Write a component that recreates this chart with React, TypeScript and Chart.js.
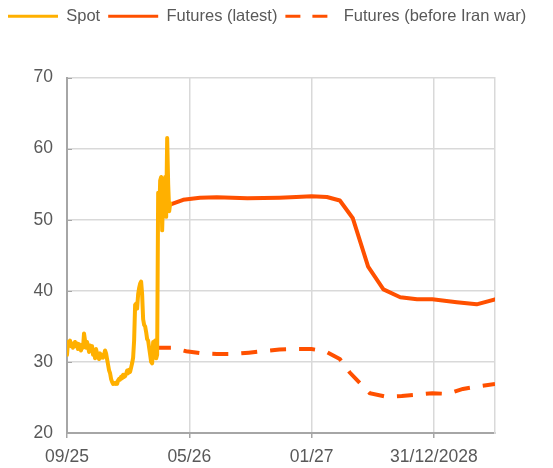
import React, { useEffect, useRef } from "react";
import { Chart, registerables } from "chart.js";

Chart.register(...registerables);

// x axis: position units (each labelled tick = 8 units)
const xTickValues = [0, 8, 16, 24];
const xTickLabels = ["09/25", "05/26", "01/27", "31/12/2028"];
const xMin = 0;
const xMax = 28;
const yMin = 20;
const yMax = 70;
const yStep = 10;

// Spot (daily), spread evenly from spotStartX to spotEndX
const spotStartX = 0;
const spotEndX = 6.75;
const spotValues = [
  31.0, 32.8, 32.5, 33.0, 32.2, 32.6, 32.0, 32.4, 32.8, 32.2,
  32.6, 31.8, 32.5, 32.3, 31.6, 32.4, 32.0, 34.0, 33.0, 32.0,
  32.8, 32.2, 31.4, 32.3, 31.8, 32.2, 31.0, 31.6, 30.5, 31.8,
  31.2, 30.8, 30.4, 31.2, 30.6, 31.0, 30.6, 31.0, 31.6, 31.2,
  30.4, 29.6, 28.8, 28.4, 27.6, 27.2, 26.9, 27.0, 26.9, 27.1,
  26.9, 27.4, 27.6, 27.5, 27.9, 27.7, 28.2, 27.9, 28.0, 28.3,
  28.8, 28.4, 28.9, 28.6, 29.2, 29.8, 30.6, 33.0, 38.0, 38.2,
  37.5, 39.5, 40.4, 41.0, 41.3, 39.5, 36.0, 35.2, 35.0, 34.2,
  33.2, 33.0, 32.0, 31.0, 30.0, 29.8, 32.8, 31.5, 33.0, 30.5,
  31.0, 53.8, 50.0, 55.5, 56.0, 48.5, 54.0, 50.5, 56.0, 50.4,
  61.5, 55.0, 51.2, 52.3,
];

const futuresLatestX = [6.6, 7.6, 8.7, 9.8, 11.8, 13.9, 15.0, 16.0, 17.0, 17.85, 18.7, 19.7, 20.7, 21.8, 22.9, 23.9, 25.5, 26.8, 28.0];
const futuresLatestY = [52.0, 52.8, 53.1, 53.15, 53.0, 53.1, 53.2, 53.3, 53.2, 52.7, 50.2, 43.4, 40.2, 39.1, 38.8, 38.8, 38.4, 38.1, 38.8];

const futuresBeforeX = [5.75, 6.85, 7.8, 8.8, 9.8, 10.8, 11.9, 12.8, 13.9, 14.8, 16.0, 16.9, 17.85, 18.5, 19.8, 20.9, 21.9, 23.9, 24.9, 25.9, 27.0, 28.0];
const futuresBeforeY = [32.0, 32.0, 31.5, 31.2, 31.1, 31.1, 31.3, 31.5, 31.75, 31.8, 31.8, 31.5, 30.4, 28.5, 25.6, 25.1, 25.2, 25.6, 25.5, 26.2, 26.6, 26.9];

const seriesNames = ["Spot", "Futures (latest)", "Futures (before Iran war)"];

const SPOT_COLOR = "#FFB000";
const FUT_COLOR = "#FF5000";
const GRID = "#d9d9d9";
const AXIS = "#a6a6a6";
const TEXT = "#595959";
const FONT = "'Liberation Sans', Arial, sans-serif";

export default function App() {
  const ref = useRef<HTMLCanvasElement | null>(null);

  useEffect(() => {
    if (!ref.current) return;
    const n = spotValues.length;
    const spotData = spotValues.map((v, i) => ({
      x: spotStartX + ((spotEndX - spotStartX) * i) / (n - 1),
      y: v,
    }));
    const latestData = futuresLatestX.map((x, i) => ({ x, y: futuresLatestY[i] }));
    const beforeData = futuresBeforeX.map((x, i) => ({ x, y: futuresBeforeY[i] }));

    const insideTicks = {
      id: "insideTicks",
      beforeDatasetsDraw(chart: any) {
        const { ctx, chartArea, scales } = chart;
        const ys = scales.y;
        ctx.save();
        ctx.strokeStyle = AXIS;
        ctx.lineWidth = 1;
        ys.ticks.forEach((t: any) => {
          const py = Math.round(ys.getPixelForValue(t.value)) + 0.5;
          ctx.beginPath();
          ctx.moveTo(chartArea.left, py);
          ctx.lineTo(chartArea.left + 5, py);
          ctx.stroke();
        });
        ctx.restore();
      },
    };

    const chart = new Chart(ref.current, {
      type: "line",
      data: {
        datasets: [
          {
            label: seriesNames[0],
            data: spotData,
            borderColor: SPOT_COLOR,
            backgroundColor: SPOT_COLOR,
            borderWidth: 4,
            pointRadius: 0,
            tension: 0,
            borderJoinStyle: "round",
            borderCapStyle: "round",
          },
          {
            label: seriesNames[1],
            data: latestData,
            borderColor: FUT_COLOR,
            backgroundColor: FUT_COLOR,
            borderWidth: 4,
            pointRadius: 0,
            tension: 0,
            borderJoinStyle: "round",
            borderCapStyle: "round",
          },
          {
            label: seriesNames[2],
            data: beforeData,
            borderColor: FUT_COLOR,
            backgroundColor: FUT_COLOR,
            borderWidth: 4,
            borderDash: [16, 13],
            pointRadius: 0,
            tension: 0,
            borderCapStyle: "butt",
          },
        ],
      },
      options: {
        animation: false,
        responsive: true,
        maintainAspectRatio: false,
        layout: { padding: 0 },
        plugins: {
          legend: {
            position: "top",
            align: "start",
            labels: {
              usePointStyle: true,
              pointStyle: "line",
              pointStyleWidth: 50,
              padding: 8,
              color: TEXT,
              font: { family: FONT, size: 16.5 },
              generateLabels(chart: any) {
                const items = Chart.defaults.plugins.legend.labels.generateLabels(chart);
                return items.map((it: any) => {
                  const ds: any = chart.data.datasets[it.datasetIndex];
                  return {
                    ...it,
                    lineWidth: 3,
                    pointStyle: "line",
                    strokeStyle: ds.borderColor,
                    lineDash: ds.borderDash ? [15, 12] : [],
                    lineCap: "butt",
                  };
                });
              },
            },
          },
          subtitle: {
            display: true,
            text: "",
            position: "top",
            weight: 500,
            font: { size: 1 },
            padding: { top: 0, bottom: 41.8 },
          } as any,
          tooltip: { enabled: false },
        },
        scales: {
          x: {
            type: "linear",
            min: xMin,
            max: xMax,
            afterBuildTicks(scale: any) {
              scale.ticks = xTickValues.map((v) => ({ value: v }));
            },
            afterFit(scale: any) {
              scale.height = 35;
            },
            ticks: {
              color: TEXT,
              font: { family: FONT, size: 17.5 },
              padding: 9,
              maxRotation: 0,
              autoSkip: false,
              callback(value: any) {
                const i = xTickValues.indexOf(Number(value));
                return i >= 0 ? xTickLabels[i] : "";
              },
            },
            grid: {
              color: GRID,
              lineWidth: 1.5,
              tickLength: 5,
              tickColor: AXIS,
              tickWidth: 1.5,
            },
            border: { color: AXIS, width: 2 },
          },
          y: {
            min: yMin,
            max: yMax,
            afterFit(scale: any) {
              scale.width = 67;
            },
            ticks: {
              stepSize: yStep,
              color: TEXT,
              font: { family: FONT, size: 17.5 },
              padding: 14,
            },
            grid: { color: GRID, lineWidth: 1.5, drawTicks: false },
            border: { color: AXIS, width: 2 },
          },
          yRight: {
            position: "right",
            min: yMin,
            max: yMax,
            afterFit(scale: any) {
              scale.width = 50;
            },
            ticks: { display: false },
            grid: { drawOnChartArea: false, drawTicks: false },
            border: { color: GRID, width: 1.5 },
          },
        },
      },
      plugins: [insideTicks],
    } as any);

    return () => chart.destroy();
  }, []);

  return (
    <div style={{ position: "fixed", top: 0, left: 0, width: 545, height: 468 }}>
      <canvas ref={ref} />
    </div>
  );
}
